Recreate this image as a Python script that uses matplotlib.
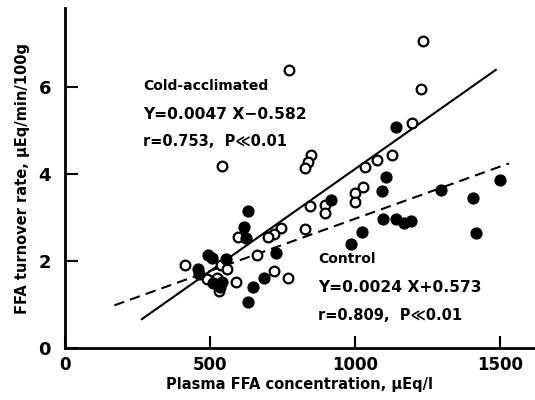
import matplotlib
matplotlib.use("Agg")
import matplotlib.pyplot as plt
import numpy as np

# Cold-acclimated (open circles)
cold_x = [1233, 773, 1227, 1195, 541, 848, 839, 828, 1033, 1077, 1126, 1026, 1000, 1000,
          897, 897, 845, 828, 745, 722, 699, 598, 661, 722, 770, 589, 414, 537, 557, 489,
          523, 532]
cold_y = [7.07, 6.40, 5.95, 5.18, 4.19, 4.45, 4.28, 4.14, 4.17, 4.33, 4.45, 3.71, 3.56, 3.36,
          3.29, 3.10, 3.27, 2.74, 2.75, 2.63, 2.56, 2.56, 2.15, 1.78, 1.62, 1.52, 1.91, 1.91,
          1.81, 1.59, 1.62, 1.32]

# Control (filled circles)
ctrl_x = [1141, 1107, 1092, 1297, 1498, 1408, 1416, 1095, 1141, 1170, 1193, 1025, 986, 916,
          630, 618, 624, 727, 687, 649, 630, 492, 506, 556, 457, 462, 511, 540, 534]
ctrl_y = [5.09, 3.94, 3.62, 3.64, 3.87, 3.44, 2.65, 2.96, 2.96, 2.88, 2.93, 2.66, 2.39, 3.40,
          3.14, 2.78, 2.54, 2.18, 1.62, 1.40, 1.06, 2.14, 2.06, 2.05, 1.81, 1.71, 1.50, 1.52,
          1.41]

# Regression lines
cold_slope, cold_icpt = 0.0047, -0.582
cold_range = [265, 1485]
ctrl_slope, ctrl_icpt = 0.0024, 0.573
ctrl_range = [170, 1530]

xticks = [0, 500, 1000, 1500]
yticks = [0, 2, 4, 6]

fig = plt.figure(figsize=(5.35, 4.0), dpi=100)
ax = fig.add_axes([65/535, 52/400, 470/535, 340/400])
ax.set_xlim(0, 1620)
ax.set_ylim(0, 7.82)

fw = "bold"
xs = np.array(cold_range)
ax.plot(xs, cold_slope * xs + cold_icpt, color="black", lw=1.5, zorder=2)
xs2 = np.array(ctrl_range)
ax.plot(xs2, ctrl_slope * xs2 + ctrl_icpt, color="black", lw=1.5, ls=(0, (5, 3)), zorder=2)

ax.plot(cold_x, cold_y, "o", ms=7, mfc="white", mec="black", mew=1.6, ls="none", zorder=3)
ax.plot(ctrl_x, ctrl_y, "o", ms=7.8, mfc="black", mec="black", mew=1, ls="none", zorder=3)

for s in ["top", "right"]:
    ax.spines[s].set_visible(False)
for s in ["left", "bottom"]:
    ax.spines[s].set_linewidth(2)

ax.set_xticks(xticks)
ax.set_yticks(yticks)
ax.set_xticklabels([str(v) for v in xticks], fontsize=12, fontweight=fw)
ax.set_yticklabels([str(v) for v in yticks], fontsize=13, fontweight=fw)
ax.tick_params(direction="in", length=9, width=1.5, pad=6)
ax.tick_params(axis="y", pad=10)

ax.set_xlabel("Plasma FFA concentration, µEq/l", fontsize=10.5, fontweight=fw, labelpad=2)
ax.set_ylabel("FFA turnover rate, µEq/min/100g", fontsize=10.5, fontweight=fw, labelpad=6)

ax.text(268, 6.02, "Cold-acclimated", fontsize=10, fontweight=fw, va="center")
ax.text(268, 5.36, "Y=0.0047 X\u22120.582", fontsize=11.2, fontweight=fw, va="center")
ax.text(268, 4.74, "r=0.753,  P\u226a0.01", fontsize=10.5, fontweight=fw, va="center")

ax.text(873, 2.04, "Control", fontsize=10, fontweight=fw, va="center")
ax.text(873, 1.39, "Y=0.0024 X+0.573", fontsize=11.2, fontweight=fw, va="center")
ax.text(873, 0.74, "r=0.809,  P\u226a0.01", fontsize=10.5, fontweight=fw, va="center")

fig.savefig("out.png", dpi=100)
